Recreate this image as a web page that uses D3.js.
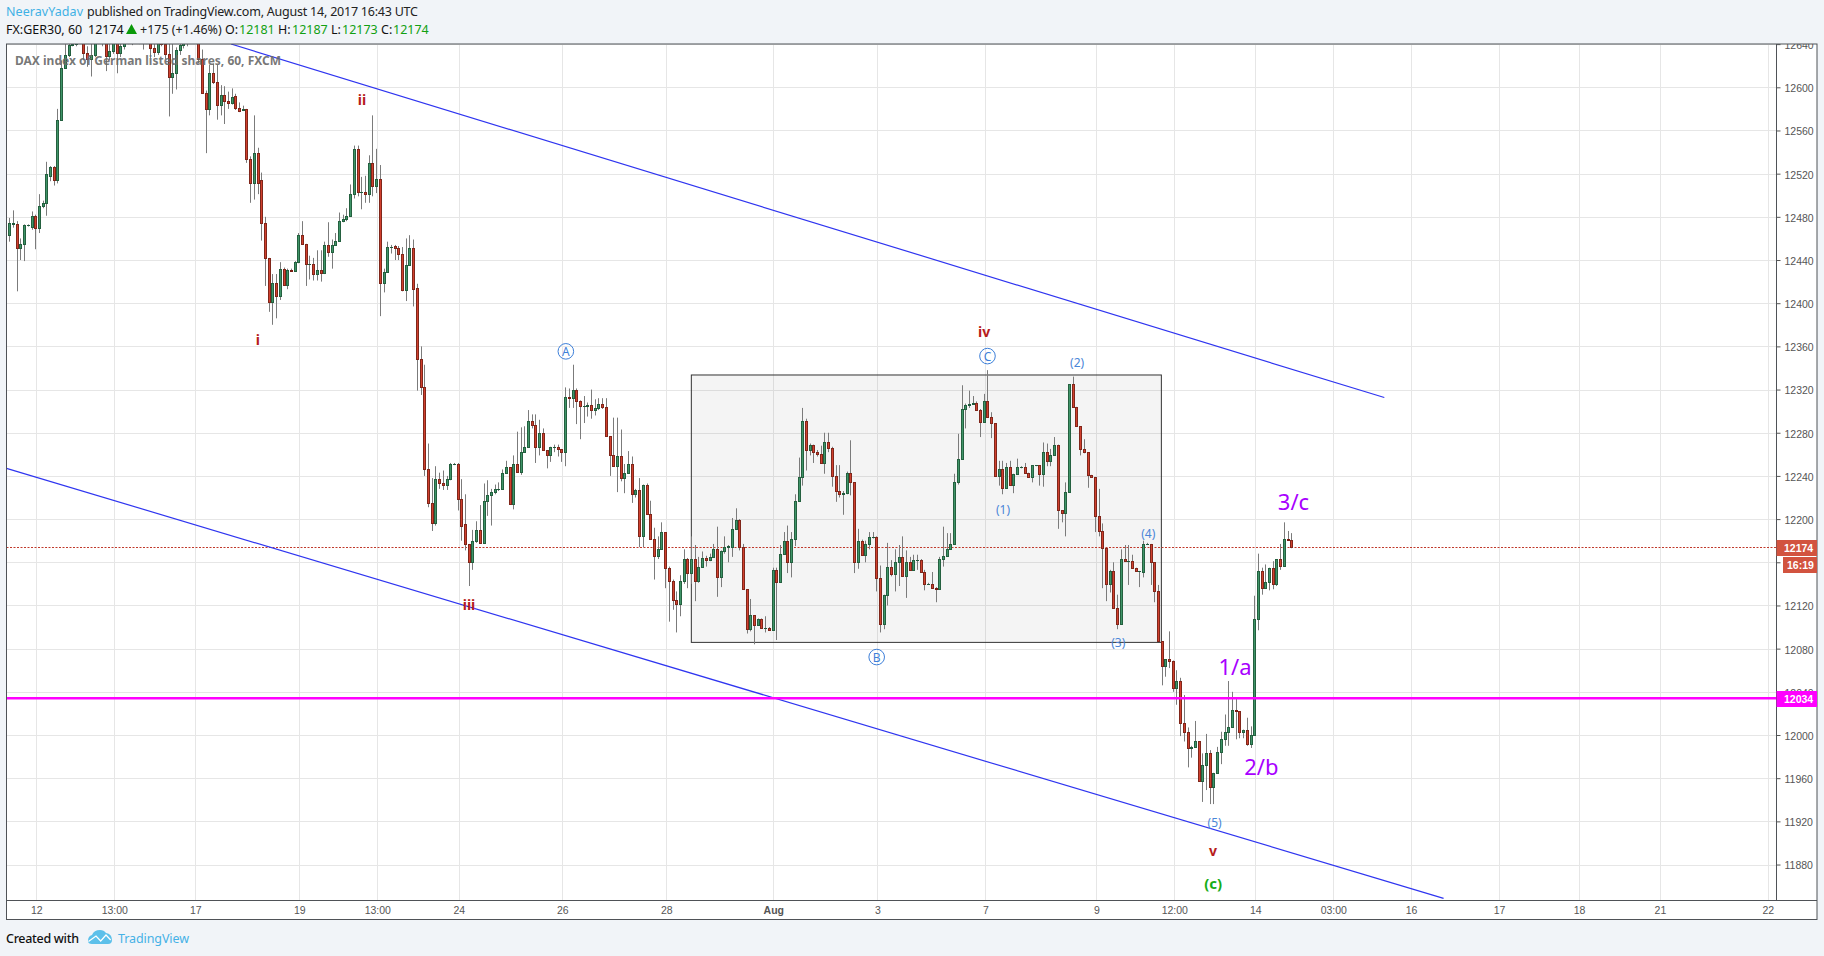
<!DOCTYPE html>
<html>
<head>
<meta charset="utf-8">
<script src="https://cdn.jsdelivr.net/npm/d3@7/dist/d3.min.js"></script>
<style>html,body{margin:0;padding:0;background:#f1f4f8;overflow:hidden}svg{display:block}</style>
</head>
<body>
<svg id="c" width="1824" height="956"></svg>
<script>
const opens = [
12463,12473,12473,12451,12455,12472,12471,12481,12470,12490,
12493,12518,12526,12514,12570,12618,12630,12639,12640,12641,
12650,12632,12626,12630,12645,12648,12645,12629,12634,12642,
12632,12638,12641,12647,12650,12648,12645,12652,12650,12636,
12633,12642,12640,12631,12610,12613,12635,12639,12642,12643,
12650,12652,12626,12595,12580,12613,12605,12584,12593,12587,
12585,12592,12581,12579,12580,12534,12511,12539,12514,12474,
12442,12401,12419,12407,12432,12417,12431,12430,12438,12463,
12455,12436,12436,12427,12431,12428,12454,12447,12454,12458,
12476,12478,12481,12501,12543,12503,12503,12501,12530,12509,
12515,12419,12429,12452,12453,12451,12446,12412,12435,12451,
12414,12348,12322,12246,12215,12196,12237,12233,12232,12237,
12251,12251,12219,12195,12177,12160,12180,12190,12178,12217,
12222,12225,12228,12228,12243,12248,12214,12251,12244,12262,
12267,12291,12287,12267,12280,12264,12259,12267,12267,12265,
12262,12313,12312,12320,12309,12305,12305,12306,12301,12303,
12307,12304,12277,12259,12249,12258,12238,12243,12251,12223,
12227,12184,12232,12205,12182,12166,12172,12188,12155,12143,
12125,12121,12143,12163,12150,12163,12143,12156,12164,12162,
12165,12172,12146,12170,12174,12174,12191,12199,12174,12135,
12098,12111,12102,12107,12099,12099,12097,12153,12142,12168,
12180,12160,12182,12217,12239,12291,12264,12269,12262,12260,
12252,12271,12266,12240,12226,12223,12224,12243,12234,12160,
12180,12167,12177,12183,12183,12145,12103,12130,12156,12149,
12160,12165,12147,12160,12153,12162,12162,12151,12140,12140,
12136,12135,12163,12166,12172,12177,12234,12256,12302,12306,
12307,12308,12301,12290,12309,12295,12289,12240,12246,12229,
12248,12232,12242,12248,12248,12243,12239,12250,12250,12242,
12262,12254,12259,12269,12208,12206,12225,12325,12304,12286,
12265,12262,12241,12239,12203,12189,12173,12140,12152,12118,
12103,12163,12161,12161,12155,12152,12151,12177,12177,12160,
12133,12087,12064,12070,12069,12044,12050,12011,12003,11988,
11989,11994,11957,11972,11983,11952,11965,11984,11996,12003,
12007,12023,12022,12003,12005,11992,12000,12107,12152,12136,
12142,12155,12140,12163,12157,12182,12181];
const highs = [
12479,12486,12476,12460,12473,12473,12485,12482,12501,12495,
12531,12527,12527,12580,12625,12640,12645,12642,12643,12652,
12652,12638,12645,12650,12652,12652,12650,12640,12650,12650,
12642,12644,12650,12655,12655,12652,12658,12655,12652,12640,
12648,12650,12645,12645,12640,12637,12642,12645,12648,12652,
12656,12654,12635,12597,12621,12622,12621,12602,12601,12596,
12599,12594,12586,12583,12580,12536,12574,12544,12521,12480,
12442,12427,12427,12438,12433,12432,12432,12439,12465,12476,
12455,12444,12442,12449,12449,12457,12475,12459,12465,12484,
12482,12488,12510,12546,12546,12517,12518,12537,12574,12543,
12528,12432,12457,12454,12454,12453,12452,12460,12463,12459,
12418,12360,12343,12270,12238,12249,12243,12245,12240,12252,
12252,12252,12237,12223,12177,12190,12198,12213,12233,12236,
12228,12232,12234,12246,12254,12248,12259,12281,12285,12286,
12301,12297,12297,12292,12284,12264,12267,12269,12269,12265,
12322,12321,12343,12321,12310,12314,12308,12320,12311,12312,
12312,12312,12277,12294,12294,12283,12251,12263,12258,12228,
12238,12232,12233,12217,12192,12184,12197,12188,12156,12144,
12133,12148,12172,12164,12184,12176,12165,12170,12166,12168,
12177,12193,12171,12184,12176,12201,12210,12200,12177,12135,
12126,12111,12108,12108,12110,12100,12155,12155,12176,12188,
12194,12188,12223,12257,12303,12293,12270,12269,12264,12268,
12280,12280,12267,12250,12250,12226,12244,12273,12234,12191,
12181,12180,12188,12188,12184,12157,12130,12178,12162,12172,
12176,12184,12171,12165,12167,12167,12163,12153,12141,12151,
12137,12165,12193,12187,12187,12242,12279,12324,12307,12319,
12314,12309,12302,12316,12338,12299,12289,12254,12254,12252,
12254,12242,12256,12249,12252,12243,12250,12250,12250,12271,
12270,12265,12276,12269,12208,12234,12325,12332,12304,12286,
12274,12262,12241,12239,12228,12196,12173,12153,12160,12130,
12172,12176,12176,12167,12155,12152,12180,12178,12177,12160,
12139,12087,12070,12096,12069,12060,12053,12037,12007,11990,
12013,11994,11983,12001,11986,11965,11989,12003,12019,12050,
12040,12035,12022,12005,12016,12008,12129,12168,12155,12158,
12155,12161,12163,12177,12197,12189,12187];
const lows = [
12457,12470,12411,12440,12439,12471,12468,12450,12465,12488,
12481,12513,12509,12511,12570,12617,12628,12638,12638,12641,
12625,12619,12610,12628,12640,12638,12615,12625,12631,12613,
12628,12635,12640,12639,12645,12640,12635,12640,12627,12628,
12630,12638,12626,12573,12594,12598,12630,12636,12638,12642,
12646,12622,12595,12539,12574,12603,12570,12574,12566,12580,
12584,12579,12577,12578,12530,12493,12496,12501,12458,12416,
12392,12380,12386,12403,12416,12413,12429,12429,12437,12454,
12416,12422,12421,12421,12420,12427,12443,12432,12454,12458,
12475,12476,12480,12497,12499,12487,12493,12493,12499,12502,
12388,12410,12428,12446,12440,12440,12411,12402,12435,12397,
12319,12315,12240,12211,12189,12194,12228,12227,12227,12236,
12250,12208,12180,12171,12138,12153,12178,12177,12178,12203,
12194,12223,12226,12228,12243,12214,12209,12244,12241,12262,
12267,12284,12252,12259,12264,12247,12253,12262,12258,12253,
12249,12303,12303,12288,12274,12289,12295,12293,12296,12301,
12302,12277,12240,12249,12225,12235,12224,12243,12215,12220,
12174,12174,12205,12182,12144,12163,12172,12136,12105,12116,
12095,12110,12140,12136,12140,12124,12141,12155,12156,12161,
12165,12128,12137,12168,12160,12165,12191,12171,12135,12094,
12096,12084,12101,12099,12095,12097,12097,12088,12142,12168,
12150,12146,12175,12217,12231,12245,12259,12252,12258,12252,
12242,12262,12230,12216,12220,12204,12223,12222,12150,12154,
12166,12160,12172,12182,12133,12095,12098,12120,12147,12133,
12138,12147,12127,12153,12152,12153,12151,12134,12139,12136,
12123,12135,12156,12165,12172,12177,12232,12256,12284,12303,
12306,12301,12276,12290,12295,12275,12240,12231,12223,12228,
12231,12224,12242,12247,12243,12239,12234,12249,12231,12230,
12249,12249,12259,12191,12197,12184,12225,12304,12286,12259,
12261,12229,12239,12188,12184,12136,12124,12132,12118,12098,
12103,12161,12139,12155,12152,12137,12146,12176,12139,12123,
12087,12046,12054,12062,12040,12028,11999,11994,11970,11979,
11988,11957,11938,11949,11936,11936,11965,11973,11990,11990,
12007,11996,11997,11997,11990,11988,12000,12097,12130,12136,
12134,12135,12138,12153,12157,12181,12173];
const closes = [
12474,12474,12451,12455,12472,12472,12481,12470,12490,12493,
12520,12526,12514,12570,12618,12630,12639,12640,12641,12650,
12632,12626,12630,12645,12648,12645,12629,12634,12642,12632,
12638,12641,12647,12650,12648,12645,12652,12650,12636,12633,
12642,12640,12631,12610,12613,12635,12639,12642,12643,12650,
12652,12626,12595,12580,12613,12605,12584,12593,12587,12585,
12591,12581,12578,12580,12534,12511,12539,12511,12474,12442,
12401,12419,12407,12432,12417,12431,12430,12438,12463,12455,
12436,12436,12427,12431,12428,12454,12447,12454,12458,12476,
12478,12481,12501,12543,12503,12503,12501,12530,12509,12515,
12419,12429,12452,12452,12451,12446,12412,12435,12451,12413,
12348,12322,12246,12215,12196,12237,12233,12232,12237,12251,
12251,12219,12194,12177,12160,12180,12190,12178,12217,12222,
12225,12228,12228,12243,12248,12214,12251,12244,12262,12267,
12291,12287,12267,12280,12264,12259,12267,12267,12265,12262,
12313,12312,12320,12309,12305,12305,12306,12301,12303,12307,
12304,12277,12259,12249,12258,12238,12243,12251,12223,12227,
12184,12232,12205,12182,12166,12172,12188,12155,12143,12125,
12121,12143,12163,12150,12163,12143,12156,12164,12162,12165,
12172,12146,12170,12174,12175,12191,12199,12174,12135,12098,
12111,12102,12107,12099,12099,12097,12153,12142,12168,12180,
12160,12182,12217,12239,12291,12264,12269,12262,12260,12252,
12271,12266,12240,12226,12223,12224,12243,12234,12160,12180,
12167,12177,12183,12183,12145,12103,12130,12156,12149,12160,
12165,12147,12160,12153,12162,12162,12151,12140,12140,12136,
12135,12163,12166,12172,12177,12234,12256,12302,12306,12307,
12308,12301,12290,12309,12295,12289,12240,12246,12229,12248,
12232,12242,12248,12248,12243,12239,12250,12250,12242,12262,
12254,12259,12269,12208,12206,12225,12325,12304,12286,12265,
12262,12241,12239,12203,12189,12173,12140,12152,12118,12103,
12163,12161,12161,12155,12152,12152,12177,12177,12160,12133,
12087,12064,12070,12069,12044,12050,12011,12003,11988,11989,
11994,11957,11972,11983,11952,11965,11984,11996,12003,12007,
12023,12022,12003,12005,11992,12000,12107,12152,12136,12142,
12155,12140,12163,12157,12182,12181,12174];

const priceTicks = [12640,12600,12560,12520,12480,12440,12400,12360,12320,12280,12240,12200,12160,12120,12080,12040,12000,11960,11920,11880];
const timeTickBars = [7.28,28.33,50.19,78.27,99.32,121.29,149.25,177.32,206.2,234.27,263.42,293.38,314.43,336.29,357.34,378.32,402.07,423.67,445.5,474.6];
const timeTickLabels = ["12","13:00","17","19","13:00","24","26","28","Aug","3","7","9","12:00","14","03:00","16","17","18","21","22"];
const lastPrice = 12174;
const levelPrice = 12034;
const upperChannel = [[59.83,12640.1],[371.1,12312.6]];
const lowerChannel = [[-0.76,12247],[387.1,11848.7]];
const boxBars = [184.07,310.93];
const boxPrices = [12333.5,12085.8];
const redLabels = [["ii",95.2,12589],["i",67.1,12366],["iii",124.07,12121],["iv",263.08,12373.7],["v",324.9,11893.4]];
const circledLabels = [["A",150.2,12355.4],["B",234.1,12072.2],["C",264,12351]];
const blueLabels = [["(1)",268.2,12209.3],["(2)",288.2,12344.9],["(3)",299.3,12085.4],["(4)",307.4,12186.6],["(5)",325.3,11918.7]];
const purpleLabels = [["1/a",330.8,12064.2],["2/b",337.9,11971.5],["3/c",346.6,12216.4]];
const greenLabels = [["(c)",324.9,11862.9]];

const svg = d3.select("#c");
const L=6.5,R=1776.5,T=44,B=900.5,AX=1817,AB=919.5;
const x = d3.scaleLinear().domain([0,opens.length-1]).range([9.33,1291.3]);
const y = d3.scaleLinear().domain([12600,12000]).range([87.3,735]);
const sans = "'Liberation Sans',Arial,sans-serif";
const noto = "'Noto Sans',sans-serif";

svg.append("defs").append("clipPath").attr("id","plot").append("rect").attr("x",L).attr("y",T).attr("width",R-L).attr("height",B-T);

svg.append("rect").attr("x",L).attr("y",T).attr("width",AX-L).attr("height",AB-T).attr("fill","#fff");

const plot = svg.append("g").attr("clip-path","url(#plot)");
const grid = plot.append("g").attr("stroke","#e6e6e6").attr("stroke-width",1);
priceTicks.forEach(p=>grid.append("line").attr("x1",L).attr("x2",R).attr("y1",Math.round(y(p))+.5).attr("y2",Math.round(y(p))+.5));
timeTickBars.forEach(b=>grid.append("line").attr("y1",T).attr("y2",B).attr("x1",Math.round(x(b))+.5).attr("x2",Math.round(x(b))+.5));

plot.append("rect").attr("x",x(boxBars[0])).attr("width",x(boxBars[1])-x(boxBars[0]))
  .attr("y",y(boxPrices[0])).attr("height",y(boxPrices[1])-y(boxPrices[0]))
  .attr("fill","rgba(0,0,0,0.045)").attr("stroke","#333").attr("stroke-width",1);

plot.append("line").attr("x1",L).attr("x2",R).attr("y1",Math.round(y(lastPrice))+.5).attr("y2",Math.round(y(lastPrice))+.5)
  .attr("stroke","#c0392b").attr("stroke-width",1).attr("stroke-dasharray","2,1.5");

const candles = plot.append("g");
opens.forEach((o,i)=>{
  const c=closes[i],up=c>=o,px=Math.round(x(i));
  candles.append("line").attr("x1",px+.5).attr("x2",px+.5).attr("y1",y(highs[i])).attr("y2",y(lows[i])).attr("stroke","#7b7b7b").attr("stroke-width",1);
  const t=Math.round(y(Math.max(o,c))),b=Math.round(y(Math.min(o,c)));
  if(b-t<2){
    candles.append("rect").attr("x",px-1).attr("width",3).attr("y",t).attr("height",Math.max(1,b-t+1)).attr("fill",up?"#1f5a3c":"#7a1c12");
  } else {
    candles.append("rect").attr("x",px-.5).attr("width",2).attr("y",t+.5).attr("height",b-t)
      .attr("fill",up?"#3f9468":"#d0402e").attr("stroke",up?"#24603f":"#80261a").attr("stroke-width",1);
  }
});

const channel = [upperChannel,lowerChannel];
channel.forEach(ch=>plot.append("line").attr("x1",x(ch[0][0])).attr("y1",y(ch[0][1])).attr("x2",x(ch[1][0])).attr("y2",y(ch[1][1])).attr("stroke","#2f35f0").attr("stroke-width",1.2));
plot.append("line").attr("x1",L).attr("x2",R).attr("y1",y(levelPrice)).attr("y2",y(levelPrice)).attr("stroke","#ff00ff").attr("stroke-width",2.4);

plot.append("text").attr("x",15).attr("y",65).text("DAX index of German listed shares, 60, FXCM")
  .attr("font-family",noto).attr("font-weight",700).attr("font-size",12).attr("fill","#6b6b6b").attr("fill-opacity",.92);

function lab(arr,opt){arr.forEach(d=>plot.append("text").attr("x",x(d[1])).attr("y",y(d[2])).text(d[0])
  .attr("text-anchor","middle").attr("dominant-baseline","central").attr("font-family",opt.f||noto).attr("font-size",opt.s).attr("font-weight",opt.w||400).attr("fill",opt.c));}
lab(redLabels,{s:14,w:700,c:"#b71c1c"});
lab(blueLabels,{s:12,c:"#4a86d8"});
lab(purpleLabels,{s:22,c:"#a800ff"});
lab(greenLabels,{s:15,w:700,c:"#17ad17"});
circledLabels.forEach(d=>{
  plot.append("circle").attr("cx",x(d[1])).attr("cy",y(d[2])).attr("r",7.8).attr("fill","none").attr("stroke","#3d7fd9").attr("stroke-width",1);
  plot.append("text").attr("x",x(d[1])).attr("y",y(d[2])).text(d[0]).attr("text-anchor","middle").attr("dominant-baseline","central")
    .attr("font-family",noto).attr("font-size",12).attr("fill","#3d7fd9");
});

// axes
svg.select("defs").append("clipPath").attr("id","paneLocal").append("rect").attr("x",0).attr("y",T).attr("width",AX-R).attr("height",B-T);
const yAxis = d3.axisRight(y).tickValues(priceTicks).tickSize(4).tickPadding(4).tickFormat(d3.format("d"));
const yag = svg.append("g").attr("transform",`translate(${R},0)`).append("g").attr("clip-path","url(#paneLocal)");
yag.call(yAxis);
yag.select(".domain").remove();
yag.selectAll("line").attr("stroke","#555");
yag.selectAll("text").attr("font-family",sans).attr("font-size",10.5).attr("fill","#555").attr("dy","0.42em");

const xAxis = d3.axisBottom(x).tickValues(timeTickBars).tickSize(0).tickPadding(6).tickFormat((d,i)=>timeTickLabels[i]);
const xa = svg.append("g").attr("transform",`translate(0,${B})`).call(xAxis);
xa.select(".domain").remove();
xa.selectAll("text").attr("font-family",sans).attr("font-size",10.5).attr("fill","#555")
  .attr("font-weight",(d,i)=>timeTickLabels[i]==="Aug"?700:400);

// borders
const border=svg.append("g").attr("fill","none").attr("stroke","#4f5257").attr("stroke-width",1);
border.append("rect").attr("x",L).attr("y",T).attr("width",AX-L).attr("height",AB-T);
border.append("line").attr("x1",R).attr("x2",R).attr("y1",T).attr("y2",B);
border.append("line").attr("x1",L).attr("x2",AX).attr("y1",B).attr("y2",B);

// price badges
function badge(x0,y0,w,h,color,txt,tx){
  svg.append("rect").attr("x",x0).attr("y",y0).attr("width",w).attr("height",h).attr("fill",color);
  svg.append("text").attr("x",tx).attr("y",y0+h/2).text(txt).attr("font-family",sans).attr("font-weight",700).attr("font-size",10.5).attr("fill","#fff").attr("dominant-baseline","central");
}
badge(R,Math.round(y(lastPrice))-7,AX-R,16,"#d2533f",String(lastPrice),1784);
badge(1783,557,AX-1783,16,"#d2533f","16:19",1787);
badge(R,Math.round(y(levelPrice))-7,AX-R,16,"#ff00ff",String(levelPrice),1784);

// header
function hdr(x0,yy,t,c,w,len){const e=svg.append("text").attr("x",x0).attr("y",yy).text(t).attr("font-family",noto).attr("font-size",12.5).attr("fill",c).attr("font-weight",w||400);
  if(len)e.attr("textLength",len).attr("lengthAdjust","spacing");return e;}
hdr(6,16,"NeeravYadav","#3fb1e5",400,77);
hdr(87,16,"published on TradingView.com, August 14, 2017 16:43 UTC","#222",400,331);
hdr(6,34,"FX:GER30, 60","#111");
hdr(88,34,"12174","#111");
svg.append("path").attr("d",d3.line()([[126,34],[131.5,24],[137,34]])+"Z").attr("fill","#0a9a0a");
hdr(140,34,"+175 (+1.46%)","#222");
hdr(225,34,"O:","#111");hdr(239,34,"12181","#12a012");
hdr(278,34,"H:","#111");hdr(292,34,"12187","#12a012");
hdr(331,34,"L:","#111");hdr(342,34,"12173","#12a012");
hdr(381,34,"C:","#111");hdr(393,34,"12174","#12a012");

// footer
hdr(6,943,"Created with","#111",500,73);
svg.append("path").attr("d","M88,941 Q88,936 92,935 Q94,930 100,930 Q104,930 106,933 Q112,934 112,940 Q112,944 108,944 L92,944 Q88,944 88,941Z").attr("fill","#5cc0ea");
svg.append("polyline").attr("points","88.5,941.5 96,936 100.7,941 106,935 110.7,940").attr("fill","none").attr("stroke","#fff").attr("stroke-width",1.2);
hdr(118,943,"TradingView","#45b1e6",400,71);
</script>
</body>
</html>
